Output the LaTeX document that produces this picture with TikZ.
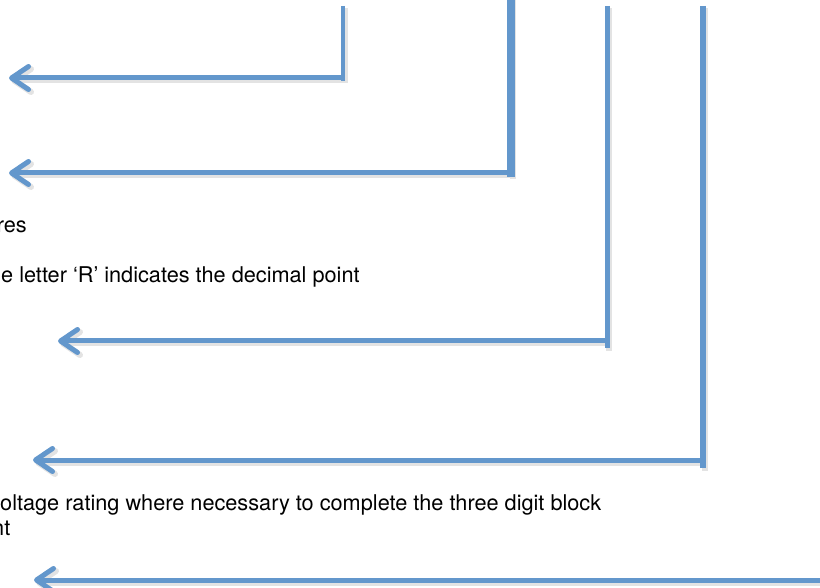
\documentclass[tikz,border=0pt]{standalone}
\usepackage{fontspec}
\setmainfont{TeX Gyre Heros}
\definecolor{myBlue}{RGB}{99,151,204}
\usetikzlibrary{arrows.meta}

\begin{document}
\begin{tikzpicture}[
      x=1pt, y=-1pt,
      myline/.style={draw=myBlue, line width=5pt},
      myshadow/.style={draw=black!11, line width=6pt,
         transform canvas={shift={(2pt,-2.5pt)}}},
      myarrow/.style={-{Straight Barb[length=17pt, width=23pt, line cap=round, line join=round]}},
      mytext/.style={anchor=base west, inner sep=0pt,
         font=\fontsize{21.7}{26}\selectfont}
      ]
      \useasboundingbox (0,0) rectangle (820,588);
      \clip (0,0) rectangle (820,588);

      % top, bottom, corner and tip of each leader
      \coordinate (t1) at (343,6);   \coordinate (b1) at (343,81);
      \coordinate (c1) at (343,78);  \coordinate (a1) at (9,78);
      \coordinate (t2) at (511,-2);  \coordinate (b2) at (511,177);
      \coordinate (c2) at (511,173); \coordinate (a2) at (9,173);
      \coordinate (t3) at (607,6);   \coordinate (b3) at (607,348);
      \coordinate (c3) at (607,341); \coordinate (a3) at (58,341);
      \coordinate (t4) at (703,6);   \coordinate (b4) at (703,468);
      \coordinate (c4) at (703,460); \coordinate (a4) at (33,460);
      \coordinate (t5) at (825,6);   \coordinate (b5) at (825,584);
      \coordinate (c5) at (825,580); \coordinate (a5) at (34,580);

      \foreach \n in {1,...,5}
      {
        \draw[myshadow] (t\n) -- (b\n);
        \draw[myshadow, myarrow] (c\n) -- (a\n);
      }
      \foreach \n/\w in {1/4.8,2/8.5,3/5,4/5.3,5/5}
      {
        \draw[myline, line width=\w pt] (t\n) -- (b\n);
        \draw[myline, myarrow] (c\n) -- (a\n);
      }

      \node[mytext, anchor=base east] (res) at (27,233) {res};
      \node[mytext] (letter) at (1,283) {e letter ‘R’ indicates the decimal point};
      \node[mytext] (voltage) at (0,510) {oltage rating where necessary to complete the three digit block};
      \node[mytext, anchor=base east] (nt) at (10.5,535) {nt};
\end{tikzpicture}
\end{document}
